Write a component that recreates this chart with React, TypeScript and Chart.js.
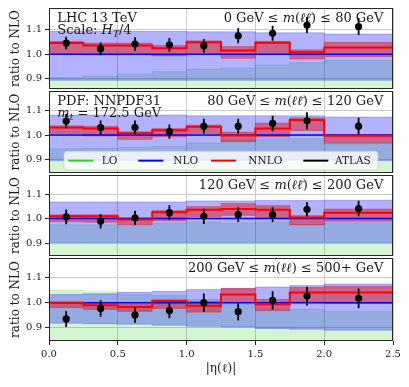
import React, { useEffect, useRef } from 'react';
import { Chart, registerables } from 'chart.js';

Chart.register(...registerables);

// ---------- data ----------
const binEdges = [0, 0.25, 0.5, 0.75, 1.0, 1.25, 1.5, 1.75, 2.0, 2.5];
const binCenters = [0.125, 0.375, 0.625, 0.875, 1.125, 1.375, 1.625, 1.875, 2.25];
const xTickValues = [0, 0.5, 1.0, 1.5, 2.0, 2.5];
const yTickValues = [0.9, 1.0, 1.1];
const panelYMin = [0.857, 0.847, 0.847, 0.847];
const panelYMax = [1.19, 1.178, 1.178, 1.178];

// panel 1: 0 GeV <= m(ll) <= 80 GeV
const p1AtlasVal = [1.046, 1.022, 1.042, 1.039, 1.035, 1.076, 1.086, 1.12, 1.114];
const p1AtlasErr = [0.026, 0.026, 0.028, 0.028, 0.028, 0.031, 0.031, 0.033, 0.035];
const p1Nnlo = [1.046, 1.036, 1.036, 1.025, 1.049, 1.015, 1.047, 1.008, 1.028];
const p1NnloUp = [1.053, 1.046, 1.046, 1.036, 1.055, 1.032, 1.053, 1.018, 1.049];
const p1NnloDn = [1.001, 0.997, 0.997, 0.993, 1.003, 0.983, 0.998, 0.98, 0.99];
const p1NloUp = [1.094, 1.094, 1.094, 1.094, 1.092, 1.092, 1.088, 1.088, 1.083];
const p1NloDn = [0.893, 0.893, 0.893, 0.893, 0.893, 0.893, 0.893, 0.893, 0.893];
const p1LoUp = [0.904, 0.91, 0.918, 0.928, 0.939, 0.943, 0.956, 0.965, 0.976];

// panel 2: 80 GeV <= m(ll) <= 120 GeV
const p2AtlasVal = [1.057, 1.03, 1.031, 1.014, 1.036, 1.036, 1.047, 1.058, 1.036];
const p2AtlasErr = [0.029, 0.029, 0.028, 0.029, 0.03, 0.03, 0.031, 0.034, 0.034];
const p2Nnlo = [1.031, 1.027, 1.007, 1.02, 1.034, 0.998, 1.027, 1.061, 0.997];
const p2NnloUp = [1.038, 1.036, 1.014, 1.027, 1.041, 1.012, 1.049, 1.07, 1.002];
const p2NnloDn = [1.006, 0.996, 0.982, 0.993, 1.006, 0.973, 0.992, 1.018, 0.967];
const p2NloUp = [1.081, 1.081, 1.081, 1.081, 1.078, 1.078, 1.078, 1.078, 1.073];
const p2NloDn = [0.897, 0.897, 0.897, 0.897, 0.897, 0.897, 0.897, 0.897, 0.897];
const p2LoUp = [0.945, 0.947, 0.95, 0.955, 0.968, 0.98, 0.985, 0.985, 0.965];

// panel 3: 120 GeV <= m(ll) <= 200 GeV
const p3AtlasVal = [1.007, 0.989, 1.003, 1.024, 1.009, 1.016, 1.016, 1.038, 1.041];
const p3AtlasErr = [0.03, 0.03, 0.029, 0.03, 0.031, 0.03, 0.03, 0.03, 0.032];
const p3Nnlo = [1.009, 1.009, 0.996, 1.026, 1.036, 1.039, 1.036, 1.004, 1.024];
const p3NnloUp = [1.016, 1.016, 1.003, 1.033, 1.049, 1.062, 1.053, 1.013, 1.039];
const p3NnloDn = [0.987, 0.985, 0.974, 0.991, 1.007, 1.013, 1.003, 0.974, 0.989];
const p3NloUp = [1.068, 1.068, 1.068, 1.068, 1.072, 1.072, 1.074, 1.074, 1.075];
const p3NloDn = [0.902, 0.902, 0.902, 0.902, 0.902, 0.902, 0.902, 0.902, 0.902];
const p3LoUp = [0.975, 0.975, 0.971, 0.982, 0.985, 0.982, 0.985, 0.975, 0.982];

// panel 4: 200 GeV <= m(ll) <= 500+ GeV
const p4AtlasVal = [0.935, 0.977, 0.951, 0.968, 1.0, 0.964, 1.009, 1.026, 1.017];
const p4AtlasErr = [0.032, 0.033, 0.031, 0.03, 0.036, 0.035, 0.036, 0.037, 0.039];
const p4Nnlo = [1.0, 0.99, 0.983, 1.007, 0.988, 1.032, 0.994, 1.04, 1.04];
const p4NnloUp = [1.003, 1.0, 0.994, 1.012, 1.006, 1.057, 1.013, 1.061, 1.065];
const p4NnloDn = [0.98, 0.973, 0.965, 0.977, 0.962, 1.0, 0.968, 1.002, 0.997];
const p4NloUp = [1.032, 1.035, 1.041, 1.045, 1.052, 1.056, 1.062, 1.068, 1.074];
const p4NloDn = [0.918, 0.916, 0.914, 0.91, 0.906, 0.903, 0.897, 0.894, 0.89];
const p4LoUp = [1.048, 1.043, 1.032, 1.028, 1.013, 0.994, 0.974, 0.974, 0.965];

const nloCentral = [1, 1, 1, 1, 1, 1, 1, 1, 1];

const legendLabels = ['LO', 'NLO', 'NNLO', 'ATLAS'];
const xAxisTitle = '|η(ℓ)|';
const yAxisTitle = 'ratio to NLO';

type Seg = [string, 'r' | 'i' | 's'];
const panelLeftNotes: Seg[][][] = [
  [[['LHC 13 TeV', 'r']], [['Scale: ', 'r'], ['H', 'i'], ['T', 's'], ['/4', 'r']]],
  [[['PDF: NNPDF31', 'r']], [['m', 'i'], ['t', 's'], [' = 172.5 GeV', 'r']]],
  [],
  [],
];
const panelRightNotes: Seg[][] = [
  [['0 GeV ≤ ', 'r'], ['m', 'i'], ['(', 'r'], ['ℓℓ̄', 'i'], [') ≤ 80 GeV', 'r']],
  [['80 GeV ≤ ', 'r'], ['m', 'i'], ['(', 'r'], ['ℓℓ̄', 'i'], [') ≤ 120 GeV', 'r']],
  [['120 GeV ≤ ', 'r'], ['m', 'i'], ['(', 'r'], ['ℓℓ̄', 'i'], [') ≤ 200 GeV', 'r']],
  [['200 GeV ≤ ', 'r'], ['m', 'i'], ['(', 'r'], ['ℓℓ', 'i'], [') ≤ 500+ GeV', 'r']],
];

const panels = [
  { atlas: p1AtlasVal, err: p1AtlasErr, nnlo: p1Nnlo, nnloUp: p1NnloUp, nnloDn: p1NnloDn, nloUp: p1NloUp, nloDn: p1NloDn, loUp: p1LoUp },
  { atlas: p2AtlasVal, err: p2AtlasErr, nnlo: p2Nnlo, nnloUp: p2NnloUp, nnloDn: p2NnloDn, nloUp: p2NloUp, nloDn: p2NloDn, loUp: p2LoUp },
  { atlas: p3AtlasVal, err: p3AtlasErr, nnlo: p3Nnlo, nnloUp: p3NnloUp, nnloDn: p3NnloDn, nloUp: p3NloUp, nloDn: p3NloDn, loUp: p3LoUp },
  { atlas: p4AtlasVal, err: p4AtlasErr, nnlo: p4Nnlo, nnloUp: p4NnloUp, nnloDn: p4NnloDn, nloUp: p4NloUp, nloDn: p4NloDn, loUp: p4LoUp },
];

// ---------- styling ----------
const FONT = '"DejaVu Serif", "Liberation Serif", serif';
const TEXT = '#1a1a1a';
const COL_LO = '#33cc33';
const COL_NLO = '#0000ff';
const COL_NNLO = '#ff0000';
const FILL_LO = 'rgba(0, 190, 0, 0.17)';
const FILL_NLO = 'rgba(0, 0, 255, 0.30)';
const FILL_NNLO = 'rgba(230, 0, 0, 0.45)';
const EDGE_LO = 'rgba(0, 190, 0, 0.2)';
const EDGE_NLO = 'rgba(0, 0, 255, 0.3)';
const EDGE_NNLO = 'rgba(230, 0, 0, 0.35)';

const PANEL_EDGES = [7, 90, 174, 257, 341];
const PAD = 3;
const BOTTOM_AXIS_H = 46;
const CANVAS_W = 409;
const TOTAL_H = 387;

function stepData(vals: number[]) {
  const pts = vals.map((v, i) => ({ x: binEdges[i], y: v }));
  pts.push({ x: binEdges[binEdges.length - 1], y: vals[vals.length - 1] });
  return pts;
}

function errData(vals: number[], errs: number[]) {
  const pts: { x: number; y: number | null }[] = [];
  vals.forEach((v, i) => {
    pts.push({ x: binCenters[i], y: v - errs[i] });
    pts.push({ x: binCenters[i], y: v + errs[i] });
    pts.push({ x: binCenters[i], y: null });
  });
  return pts;
}

function segFont(st: string, size: number) {
  if (st === 'r') return `${size}px ${FONT}`;
  if (st === 'i') return `italic ${size}px ${FONT}`;
  return `italic ${Math.round(size * 0.72)}px ${FONT}`;
}

function drawRich(ctx: CanvasRenderingContext2D, segs: Seg[], x: number, y: number, size: number, align: 'left' | 'right') {
  let total = 0;
  const widths = segs.map(([t, st]) => {
    ctx.font = segFont(st, size);
    const w = ctx.measureText(t).width;
    total += w;
    return w;
  });
  let cx = align === 'right' ? x - total : x;
  segs.forEach(([t, st], k) => {
    ctx.font = segFont(st, size);
    ctx.fillText(t, cx, st === 's' ? y + size * 0.28 : y);
    cx += widths[k];
  });
}

const framePlugin = {
  id: 'panelFrame',
  afterDatasetsDraw(chart: any) {
    const { ctx, chartArea: a } = chart;
    ctx.save();
    ctx.strokeStyle = '#262626';
    ctx.lineWidth = 1;
    ctx.strokeRect(a.left + 0.5, a.top + 0.5, a.right - a.left - 1, a.bottom - a.top - 1);
    ctx.restore();
  },
};

function notesPlugin(idx: number) {
  return {
    id: 'panelNotes' + idx,
    afterDraw(chart: any) {
      const { ctx, chartArea: a } = chart;
      ctx.save();
      ctx.fillStyle = TEXT;
      ctx.textBaseline = 'alphabetic';
      const size = 13;
      panelLeftNotes[idx].forEach((line, k) => {
        drawRich(ctx, line, a.left + 8.3, a.top + 14 + k * 11.8, size, 'left');
      });
      drawRich(ctx, panelRightNotes[idx], a.right - 9.7, a.top + 14, size, 'right');

      if (idx === 1) {
        const bx = a.left + 15, by = a.top + 60.3, bw = 314, bh = 18.7, r = 3;
        ctx.beginPath();
        ctx.moveTo(bx + r, by);
        ctx.lineTo(bx + bw - r, by);
        ctx.quadraticCurveTo(bx + bw, by, bx + bw, by + r);
        ctx.lineTo(bx + bw, by + bh - r);
        ctx.quadraticCurveTo(bx + bw, by + bh, bx + bw - r, by + bh);
        ctx.lineTo(bx + r, by + bh);
        ctx.quadraticCurveTo(bx, by + bh, bx, by + bh - r);
        ctx.lineTo(bx, by + r);
        ctx.quadraticCurveTo(bx, by, bx + r, by);
        ctx.closePath();
        ctx.fillStyle = 'rgba(255,255,255,0.8)';
        ctx.fill();
        ctx.strokeStyle = 'rgba(204,204,204,0.8)';
        ctx.lineWidth = 1;
        ctx.stroke();
        const handleX = [19.3, 89.3, 162, 254.3];
        const textX = [52.7, 124.3, 199.3, 286];
        const colors = [COL_LO, COL_NLO, COL_NNLO, '#000000'];
        const cy = by + bh / 2;
        legendLabels.forEach((lab, k) => {
          ctx.strokeStyle = colors[k];
          ctx.lineWidth = 2;
          ctx.beginPath();
          ctx.moveTo(a.left + handleX[k], cy);
          ctx.lineTo(a.left + handleX[k] + 25, cy);
          ctx.stroke();
          ctx.fillStyle = TEXT;
          ctx.font = `10.5px ${FONT}`;
          ctx.textBaseline = 'middle';
          ctx.fillText(lab, a.left + textX[k], cy + 0.5);
        });
      }
      ctx.restore();
    },
  };
}

function buildConfig(idx: number) {
  const p = panels[idx];
  const isLast = idx === panels.length - 1;
  const datasets: any[] = [
    {
      data: p.atlas.map((v, i) => ({ x: binCenters[i], y: v })),
      showLine: false, pointRadius: 3.6, pointBackgroundColor: '#000', pointBorderWidth: 0,
      borderColor: '#000', order: 0,
    },
    {
      data: errData(p.atlas, p.err), borderColor: '#000', borderWidth: 1.8,
      pointRadius: 0, spanGaps: false, order: 1,
    },
    {
      data: stepData(p.nnlo), stepped: 'before', borderColor: COL_NNLO, borderWidth: 2,
      pointRadius: 0, order: 2,
    },
    {
      data: stepData(nloCentral), stepped: 'before', borderColor: COL_NLO, borderWidth: 1.5,
      pointRadius: 0, order: 3,
    },
    {
      data: stepData(p.nnloUp), stepped: 'before', borderColor: EDGE_NNLO, borderWidth: 0.8,
      backgroundColor: FILL_NNLO, fill: '+1', pointRadius: 0, order: 4,
    },
    {
      data: stepData(p.nnloDn), stepped: 'before', borderColor: EDGE_NNLO, borderWidth: 0.8,
      fill: false, pointRadius: 0, order: 5,
    },
    {
      data: stepData(p.nloUp), stepped: 'before', borderColor: EDGE_NLO, borderWidth: 0.8,
      backgroundColor: FILL_NLO, fill: '+1', pointRadius: 0, order: 6,
    },
    {
      data: stepData(p.nloDn), stepped: 'before', borderColor: EDGE_NLO, borderWidth: 0.8,
      fill: false, pointRadius: 0, order: 7,
    },
    {
      data: stepData(p.loUp), stepped: 'before', borderColor: EDGE_LO, borderWidth: 0.8,
      backgroundColor: FILL_LO, fill: 'start', pointRadius: 0, order: 8,
    },
  ];

  return {
    type: 'line',
    data: { datasets },
    options: {
      responsive: false,
      animation: false,
      events: [],
      layout: { padding: { left: 0, right: CANVAS_W - 393, top: PAD, bottom: isLast ? 0 : PAD } },
      plugins: { legend: { display: false }, tooltip: { enabled: false } },
      scales: {
        x: {
          type: 'linear',
          min: 0,
          max: 2.5,
          afterBuildTicks: (s: any) => { s.ticks = xTickValues.map((v) => ({ value: v })); },
          afterFit: (s: any) => {
            s.height = isLast ? BOTTOM_AXIS_H : 0;
            s.paddingLeft = 0; s.paddingRight = 0; s.paddingTop = 0; s.paddingBottom = 0;
          },
          ticks: {
            display: isLast,
            autoSkip: false,
            maxRotation: 0,
            padding: 3,
            color: TEXT,
            font: { family: FONT, size: 10 },
            callback: (v: any) => Number(v).toFixed(1),
          },
          grid: { color: '#cccccc', lineWidth: 1, drawTicks: isLast, tickLength: 4, tickColor: '#262626', tickWidth: 1 },
          border: { display: false },
          title: {
            display: isLast,
            text: xAxisTitle,
            color: TEXT,
            font: { family: FONT, size: 12 },
            padding: { top: 0, bottom: 11 },
          },
        },
        y: {
          min: panelYMin[idx],
          max: panelYMax[idx],
          afterBuildTicks: (s: any) => { s.ticks = yTickValues.map((v) => ({ value: v })); },
          afterFit: (s: any) => {
            s.width = 49;
            s.paddingLeft = 0; s.paddingRight = 0; s.paddingTop = 0; s.paddingBottom = 0;
          },
          ticks: {
            padding: 3,
            color: TEXT,
            font: { family: FONT, size: 10 },
            callback: (v: any) => Number(v).toFixed(1),
          },
          grid: { color: '#cccccc', lineWidth: 1, drawTicks: true, tickLength: 4, tickColor: '#262626', tickWidth: 1 },
          border: { display: false },
          title: {
            display: true,
            text: yAxisTitle,
            color: TEXT,
            font: { family: FONT, size: 12 },
            padding: { top: 9, bottom: 0 },
          },
        },
      },
    },
    plugins: [framePlugin, notesPlugin(idx)],
  };
}

export default function App() {
  const refs = useRef<(HTMLCanvasElement | null)[]>([]);

  const layout = panels.map((_, i) => {
    const isLast = i === panels.length - 1;
    const top = PANEL_EDGES[i] - PAD;
    const h = isLast ? TOTAL_H - top : PANEL_EDGES[i + 1] - PANEL_EDGES[i] + 2 * PAD;
    return { top, h };
  });

  useEffect(() => {
    const charts = panels.map((_, i) => new Chart(refs.current[i] as HTMLCanvasElement, buildConfig(i) as any));
    return () => charts.forEach((c) => c.destroy());
  }, []);

  return (
    <div style={{ position: 'absolute', left: 0, top: 0, width: CANVAS_W, height: TOTAL_H, background: '#ffffff' }}>
      {layout.map((l, i) => (
        <canvas
          key={i}
          ref={(el) => { refs.current[i] = el; }}
          width={CANVAS_W}
          height={l.h}
          style={{ position: 'absolute', left: 0, top: l.top, width: CANVAS_W, height: l.h }}
        />
      ))}
    </div>
  );
}
